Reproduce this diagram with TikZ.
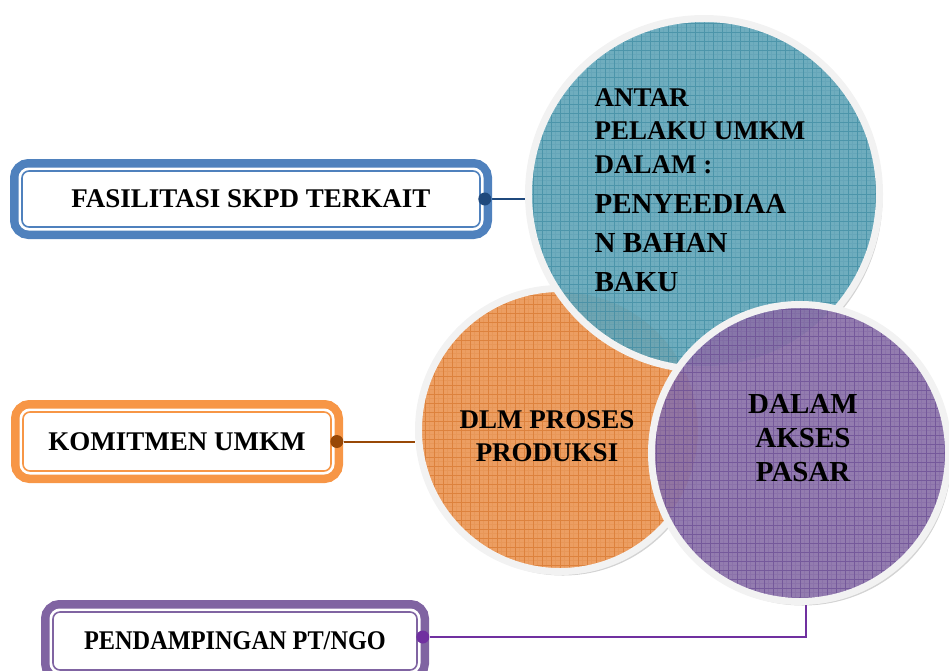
\documentclass[tikz,border=0pt]{standalone}
\usepackage{fontspec}
\setmainfont{Liberation Serif}
\usepackage{graphicx}
\usetikzlibrary{positioning,shadows,backgrounds}

\definecolor{boxblue}{HTML}{4F81BD}
\definecolor{boxorange}{HTML}{F79646}
\definecolor{boxpurple}{HTML}{8064A2}
\definecolor{dotblue}{HTML}{1F497D}
\definecolor{dotbrown}{HTML}{984807}
\definecolor{dotpurple}{HTML}{7030A0}
\definecolor{tealfill}{HTML}{62A8BC}
\definecolor{tealgrid}{HTML}{3F8CA3}
\definecolor{orangefill}{HTML}{EC9E62}
\definecolor{orangegrid}{HTML}{D8782F}
\definecolor{purplefill}{HTML}{8B71AA}
\definecolor{purplegrid}{HTML}{6A4C94}
\definecolor{ringgray}{HTML}{F2F2F2}

\newcommand\bigtxt{\fontsize{29}{39}\selectfont}

\tikzset{
  labelbox/.style={rectangle, rounded corners=7pt, fill=white, draw=#1, line width=1.6pt,
    preaction={draw=#1, line width=24pt}, preaction={draw=white, line width=7pt},
    inner sep=0pt, font=\bfseries\fontsize{27}{32}\selectfont},
  knob/.style={circle, fill=#1, inner sep=0pt, minimum size=13pt},
  bubble/.style 2 args={circle, inner sep=0pt, fill=#1, draw=ringgray, line width=7pt,
    drop shadow={shadow xshift=3pt, shadow yshift=-4pt, opacity=0.35},
    path picture={
      \draw[#2, line width=0.3pt, opacity=0.18] (path picture bounding box.south west) grid[step=4.5pt] (path picture bounding box.north east);
      \draw[#2, line width=0.7pt, opacity=0.65] (path picture bounding box.south west) grid[step=9pt] (path picture bounding box.north east);
    }},
  bubbletext/.style={font=\bfseries\fontsize{27}{33.5}\selectfont, inner sep=0pt}
}

\begin{document}
\begin{tikzpicture}[x=1pt,y=-1pt]
\useasboundingbox (0,0) rectangle (949,670);

% boxes on the left
\node[labelbox=boxblue, minimum width=458pt, minimum height=56pt] (fas) at (251,199) {FASILITASI SKPD TERKAIT};
\node[labelbox=boxorange, minimum width=308pt, minimum height=59pt] (kom) at (177,441.5) {KOMITMEN UMKM};
\node[labelbox=boxpurple, minimum width=364pt, minimum height=58pt] (pen) at (235,641) {\scalebox{0.9}[1]{PENDAMPINGAN PT/NGO}};

\node[knob=dotblue] (d1) at ([xshift=4pt]fas.east) {};
\node[knob=dotbrown] (d2) at ([xshift=5pt]kom.east) {};
\node[knob=dotpurple] (d3) at ([xshift=5pt,yshift=4pt]pen.east) {};

% circles
\node[bubble={orangefill}{orangegrid}, minimum size=283pt] (prod) at (560,430) {};
\node[bubbletext, align=center] (prodtxt) at ([xshift=-13pt,yshift=-6pt]prod.center) {DLM PROSES\\PRODUKSI};

\node[bubble={tealfill}{tealgrid}, fill opacity=0.88, minimum size=351pt] (antar) at (704,194) {};
\node[bubbletext, align=left] (antartxt) at ([xshift=-4pt,yshift=4pt]antar.center) {ANTAR\\ PELAKU UMKM\\ DALAM :\\[6.5pt] \bigtxt PENYEEDIAA\\[5.5pt] \bigtxt N BAHAN\\[5.5pt] \bigtxt BAKU};

\node[bubble={purplefill}{purplegrid}, fill opacity=0.88, minimum size=297pt] (pasar) at (800,453) {};
\node[bubbletext, align=center, font=\bfseries\fontsize{29}{34}\selectfont] (pasartxt) at ([xshift=3pt,yshift=15pt]pasar.center) {DALAM\\AKSES\\PASAR};

% connectors
\begin{pgfonlayer}{background}
\draw[dotblue, line width=2pt] (d1) -- (d1 -| antar.west);
\draw[dotbrown, line width=2pt] (d2) -- (d2 -| prod.west);
\draw[dotpurple, line width=2pt] (d3) -| ([xshift=6pt]pasar.south);
\end{pgfonlayer}
\end{tikzpicture}
\end{document}
